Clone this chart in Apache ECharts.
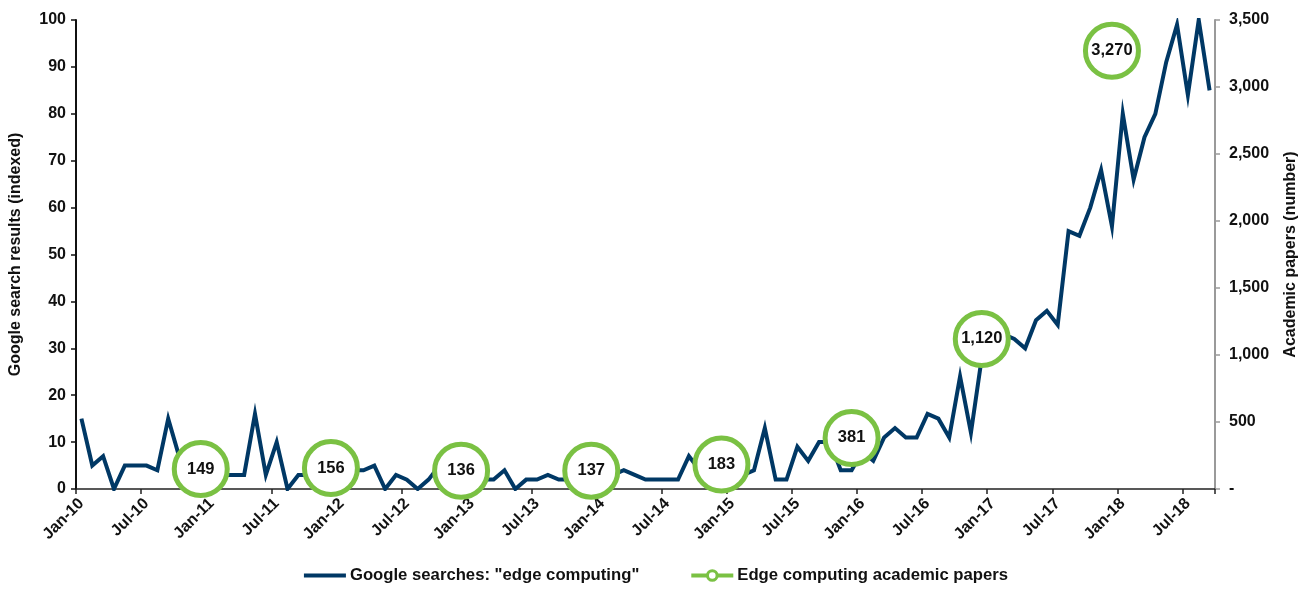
<!DOCTYPE html>
<html>
<head>
<meta charset="utf-8">
<script src="https://cdn.jsdelivr.net/npm/echarts@6/dist/echarts.min.js"></script>
<style>
  html, body { margin: 0; padding: 0; background: #fff; }
  #chart { width: 1310px; height: 590px; }
</style>
</head>
<body>
<div id="chart"></div>
<script>
// Monthly categories Jan-10 .. Sep-18
const monthNames = ['Jan','Feb','Mar','Apr','May','Jun','Jul','Aug','Sep','Oct','Nov','Dec'];
const years = ['10','11','12','13','14','15','16','17','18'];
const lastYearMonths = 9;

// Google Trends index for "edge computing" (one value per month)
const searchIndex = [
  15, 5, 7, 0, 5, 5, 5, 4, 15, 7, 3, 3,
  3, 3, 3, 3, 16, 3, 10, 0, 3, 3, 3, 4,
  5, 4, 4, 5, 0, 3, 2, 0, 2, 5, 3, 3,
  2, 2, 2, 4, 0, 2, 2, 3, 2, 2, 2, 2,
  2, 3, 4, 3, 2, 2, 2, 2, 7, 4, 3, 3,
  3, 3, 4, 13, 2, 2, 9, 6, 10, 10, 4, 4,
  8, 6, 11, 13, 11, 11, 16, 15, 11, 24, 12, 28,
  32, 33, 32, 30, 36, 38, 35, 55, 54, 60, 68, 56,
  80, 66, 75, 80, 91, 99, 84, 100, 85
];

// Annual count of academic papers, plotted at December of each year
const paperMonths = ['Dec-10','Dec-11','Dec-12','Dec-13','Dec-14','Dec-15','Dec-16','Dec-17'];
const paperCounts = [149, 156, 136, 137, 183, 381, 1120, 3270];

const leftTicks = { min: 0, max: 100, interval: 10 };
const rightTicks = { min: 0, max: 3500, interval: 500 };

const categories = [];
years.forEach((y, yi) => {
  const n = yi === years.length - 1 ? lastYearMonths : 12;
  for (let m = 0; m < n; m++) categories.push(monthNames[m] + '-' + y);
});

const paperSeries = categories.map(c => {
  const k = paperMonths.indexOf(c);
  return k >= 0 ? paperCounts[k] : null;
});

const NAVY = '#003865';
const GREEN = '#7AC143';
const FONT = 'Arial, "Liberation Sans", sans-serif';
const txt = { fontFamily: FONT, fontWeight: 'bold', fontSize: 16, color: '#111' };

const chart = echarts.init(document.getElementById('chart'), null, { renderer: 'canvas' });
chart.setOption({
  animation: false,
  backgroundColor: '#fff',
  grid: { left: 75, right: 95, top: 20, bottom: 101, containLabel: false },
  legend: {
    bottom: 1,
    left: 'center',
    itemGap: 50,
    itemWidth: 42,
    itemHeight: 12,
    textStyle: Object.assign({}, txt, { fontSize: 16.7, padding: [0, 0, 0, -1] }),
    data: [
      {
        name: 'Google searches: "edge computing"',
        itemStyle: { opacity: 0 },
        lineStyle: { color: NAVY, width: 4 }
      },
      {
        name: 'Edge computing academic papers',
        itemStyle: { color: '#fff', borderColor: GREEN, borderWidth: 3 },
        lineStyle: { color: GREEN, width: 4 }
      }
    ]
  },
  xAxis: {
    type: 'category',
    data: categories,
    boundaryGap: true,
    axisLine: { lineStyle: { color: '#222', width: 1.5 } },
    axisTick: {
      show: true,
      interval: i => i % 6 === 0,
      length: 5,
      lineStyle: { color: '#222', width: 1.5 }
    },
    axisLabel: Object.assign({}, txt, {
      interval: i => i % 6 === 0,
      rotate: 45,
      margin: 12
    }),
    splitLine: { show: false }
  },
  yAxis: [
    {
      type: 'value',
      min: leftTicks.min, max: leftTicks.max, interval: leftTicks.interval,
      name: 'Google search results (indexed)',
      nameLocation: 'middle',
      nameRotate: 90,
      nameGap: 52,
      nameTextStyle: Object.assign({}, txt),
      axisLine: { show: true, lineStyle: { color: '#111', width: 2 } },
      axisTick: { show: true, length: 5, lineStyle: { color: '#111', width: 1.5 } },
      axisLabel: Object.assign({}, txt, { margin: 10 }),
      splitLine: { show: false }
    },
    {
      type: 'value',
      position: 'right',
      min: rightTicks.min, max: rightTicks.max, interval: rightTicks.interval,
      name: 'Academic papers (number)',
      nameLocation: 'middle',
      nameRotate: 90,
      nameGap: 68,
      nameTextStyle: Object.assign({}, txt),
      axisLine: { show: true, lineStyle: { color: '#9a9a9a', width: 2 } },
      axisTick: { show: true, length: 5, lineStyle: { color: '#9a9a9a', width: 1.5 } },
      axisLabel: Object.assign({}, txt, {
        margin: 14,
        formatter: v => v === 0 ? '-' : v.toLocaleString('en-US')
      }),
      splitLine: { show: false }
    }
  ],
  series: [
    {
      name: 'Google searches: "edge computing"',
      type: 'line',
      yAxisIndex: 0,
      data: searchIndex,
      symbol: 'none',
      lineStyle: { color: NAVY, width: 4, join: 'miter' },
      itemStyle: { color: NAVY },
      z: 2
    },
    {
      name: 'Edge computing academic papers',
      type: 'line',
      yAxisIndex: 1,
      data: paperSeries,
      connectNulls: false,
      showAllSymbol: true,
      symbol: 'circle',
      symbolSize: 53,
      lineStyle: { color: GREEN, width: 4 },
      itemStyle: { color: '#fff', borderColor: GREEN, borderWidth: 5 },
      label: {
        show: true,
        position: 'inside',
        fontFamily: FONT,
        fontWeight: 'bold',
        fontSize: 16.5,
        color: '#111',
        formatter: p => p.value == null ? '' : Number(p.value).toLocaleString('en-US')
      },
      z: 5
    }
  ]
});
</script>
</body>
</html>
